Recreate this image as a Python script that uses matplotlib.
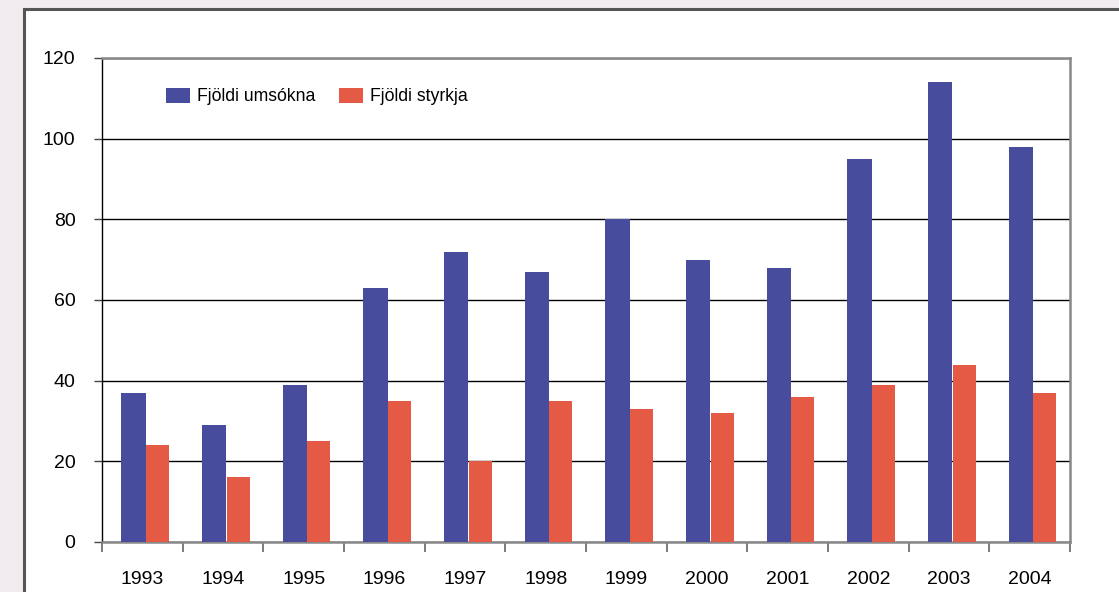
import matplotlib
matplotlib.use("Agg")
import matplotlib.pyplot as plt
from matplotlib.patches import Rectangle, Patch
import numpy as np

years = ["1993", "1994", "1995", "1996", "1997", "1998", "1999", "2000", "2001", "2002", "2003", "2004"]
umsokna = [37, 29, 39, 63, 72, 67, 80, 70, 68, 95, 114, 98]
styrkja = [24, 16, 25, 35, 20, 35, 33, 32, 36, 39, 44, 37]
series_labels = ["Fjöldi umsókna", "Fjöldi styrkja"]
yticks = [0, 20, 40, 60, 80, 100, 120]

blue = "#474C9C"
red = "#E55A44"

plt.rcParams['font.family'] = ['Liberation Sans', 'DejaVu Sans']

fig = plt.figure(figsize=(11.19, 5.92), dpi=100)
fig.patch.set_facecolor("#F0ECF0")
W, H = 1119, 592

bg = fig.add_axes([0, 0, 1, 1], zorder=-5)
bg.set_xlim(0, W)
bg.set_ylim(H, 0)
bg.axis("off")
bg.add_patch(Rectangle((24, 9), 1200, 700, facecolor="white", edgecolor="#555555", linewidth=2.2))

ax = fig.add_axes([102 / W, 50 / H, 968 / W, 484 / H], zorder=1)
ax.set_facecolor("none")
x = np.arange(len(years))
ax.bar(x - 0.11, umsokna, width=0.3, color=blue, zorder=3, label=series_labels[0])
ax.bar(x + 0.19, styrkja, width=0.285, color=red, zorder=3, label=series_labels[1])

ax.set_xlim(-0.5, len(years) - 0.5)
ax.set_ylim(0, 120)
ax.set_yticks(yticks)
ax.set_yticklabels([str(v) for v in yticks], fontsize=14)
ax.yaxis.grid(True, color="black", linewidth=1.0, zorder=1)
ax.set_axisbelow(True)

ax.set_xticks(x)
ax.set_xticklabels(years, fontsize=14)
ax.set_xticks(np.arange(-0.5, len(years) + 0.5, 1), minor=True)
ax.tick_params(axis="x", which="major", length=0, pad=21)
ax.tick_params(axis="x", which="minor", length=7, width=1.2, color="#666666", direction="out")
ax.tick_params(axis="y", length=6, width=1.0, color="#444444", direction="out", pad=13)

ax.spines["left"].set_color("black")
ax.spines["left"].set_linewidth(1.0)
for s in ["top", "right", "bottom"]:
    ax.spines[s].set_color("#888888")
    ax.spines[s].set_linewidth(1.8)

handles = [Patch(facecolor=blue), Patch(facecolor=red)]
ax.legend(handles, series_labels, loc="upper left", bbox_to_anchor=(0.066, 0.939),
          ncol=2, frameon=False, fontsize=12.7, handlelength=1.36, handleheight=1.0,
          handletextpad=0.4, columnspacing=1.36, borderpad=0, borderaxespad=0)

fig.savefig("out.png", dpi=100, facecolor=fig.get_facecolor())
